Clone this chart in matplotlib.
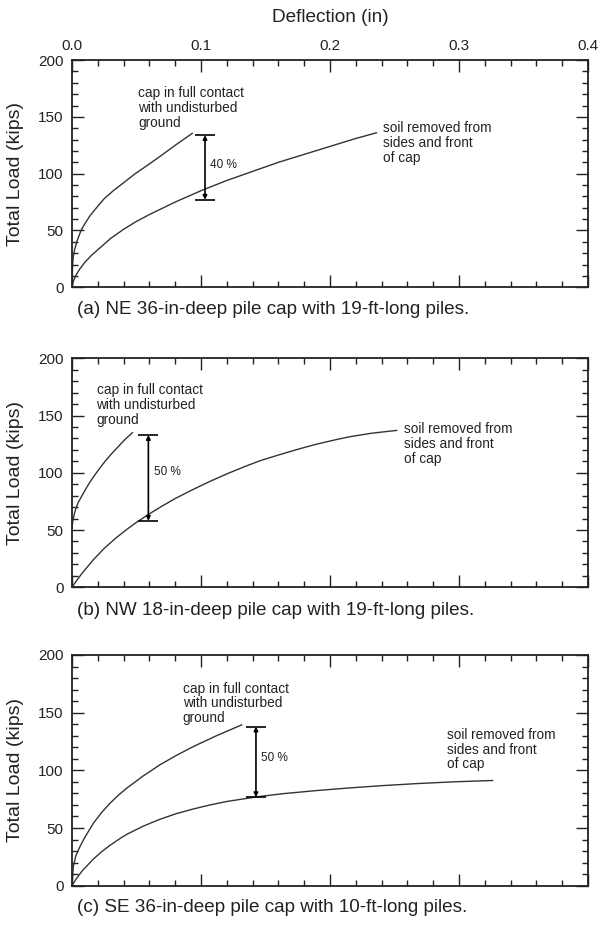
import matplotlib
matplotlib.use("Agg")
import matplotlib.pyplot as plt
from matplotlib.ticker import MultipleLocator

plt.rcParams['font.family'] = ['Liberation Sans', 'DejaVu Sans']

# ---- data (deflection in inches, load in kips) ----
# (a) NE 36-in-deep cap, 19-ft piles
a_full_x = [0, 0.0005, 0.001, 0.002, 0.004, 0.007, 0.010, 0.014, 0.019, 0.025, 0.032, 0.040,
            0.049, 0.058, 0.068, 0.080, 0.0932]
a_full_y = [0, 20, 27, 33, 41, 50, 56, 63, 70, 78, 85, 92, 100, 107, 115, 125, 135.5]
a_soil_x = [0, 0.001, 0.003, 0.006, 0.010, 0.015, 0.020, 0.030, 0.040, 0.050, 0.060, 0.080, 0.100,
            0.120, 0.140, 0.160, 0.180, 0.200, 0.220, 0.236]
a_soil_y = [0, 5, 10.5, 16, 22, 28, 33, 43, 51, 58, 64, 75, 85, 94, 102, 110, 117, 124, 131, 136]
a_gap = (0.1031, 77, 134)   # x, bottom, top
a_pct = "40 %"

# (b) NW 18-in-deep cap, 19-ft piles
b_full_x = [0, 0.0005, 0.001, 0.002, 0.0034, 0.005, 0.007, 0.009, 0.011, 0.014, 0.017, 0.0215,
            0.026, 0.031, 0.036, 0.041, 0.0468]
b_full_y = [52, 57, 60, 65, 70, 74.5, 78.5, 82.5, 86.5, 92, 97, 104, 110.5, 117, 123, 129, 135]
b_soil_x = [0, 0.003, 0.008, 0.0165, 0.025, 0.034, 0.0424, 0.051, 0.0605, 0.070, 0.080, 0.094,
            0.107, 0.120, 0.133, 0.1457, 0.160, 0.175, 0.1897, 0.205, 0.2155, 0.232, 0.2517]
b_soil_y = [0, 5, 12.5, 24, 34, 43, 50.5, 57.5, 64.5, 71, 77.5, 85.5, 92.5, 99, 105, 110.5,
            115.5, 120.5, 125, 129, 131.5, 134.5, 137]
b_gap = (0.0592, 58, 133)
b_pct = "50 %"

# (c) SE 36-in-deep cap, 10-ft piles
c_full_x = [0, 0.001, 0.003, 0.0062, 0.010, 0.0165, 0.023, 0.0295, 0.036, 0.0424, 0.055, 0.068,
            0.081, 0.094, 0.112, 0.1315]
c_full_y = [0, 16.5, 26, 34, 42, 54, 63.5, 71.5, 78.5, 84.5, 95, 104.7, 113, 120.6, 130, 139.4]
c_soil_x = [0, 0.003, 0.008, 0.0165, 0.023, 0.0295, 0.036, 0.0424, 0.055, 0.068, 0.081, 0.094,
            0.107, 0.120, 0.143, 0.1638, 0.190, 0.2155, 0.240, 0.2672, 0.295, 0.326]
c_soil_y = [0, 5.5, 13, 23, 29.5, 35, 40, 44.5, 51.5, 57.5, 62.5, 66.5, 70, 73, 77, 79.8, 82.5,
            84.8, 86.7, 88.5, 90, 91.2]
c_gap = (0.1426, 76.7, 138)
c_pct = "50 %"

captions = ["(a) NE 36-in-deep pile cap with 19-ft-long piles.",
            "(b) NW 18-in-deep pile cap with 19-ft-long piles.",
            "(c) SE 36-in-deep pile cap with 10-ft-long piles."]
full_txt = "cap in full contact\nwith undisturbed\nground"
soil_txt = "soil removed from\nsides and front\nof cap"

panels = [
    dict(fx=a_full_x, fy=a_full_y, sx=a_soil_x, sy=a_soil_y, gap=a_gap, pct=a_pct,
         full_pos=(0.0514, 177), soil_pos=(0.2413, 146), pct_pos=(0.107, 107.5),
         rect=[0.1204, 0.6895, 0.8629, 0.2455]),
    dict(fx=b_full_x, fy=b_full_y, sx=b_soil_x, sy=b_soil_y, gap=b_gap, pct=b_pct,
         full_pos=(0.019, 178), soil_pos=(0.2574, 144.5), pct_pos=(0.0638, 100.5),
         rect=[0.1204, 0.3651, 0.8629, 0.2476]),
    dict(fx=c_full_x, fy=c_full_y, sx=c_soil_x, sy=c_soil_y, gap=c_gap, pct=c_pct,
         full_pos=(0.0858, 177), soil_pos=(0.2905, 137), pct_pos=(0.1466, 111),
         rect=[0.1204, 0.0425, 0.8629, 0.2494]),
]
cap_y = [0.6649, 0.3405, 0.0184]

fig = plt.figure(figsize=(5.98, 9.25), dpi=100)
lc = "#333333"
tc = "#222222"

for i, p in enumerate(panels):
    ax = fig.add_axes(p["rect"])
    ax.plot(p["fx"], p["fy"], color=lc, lw=1.0)
    ax.plot(p["sx"], p["sy"], color=lc, lw=1.0)
    # bracket showing the load gap between the two curves
    gx, gb, gt = p["gap"]
    ax.hlines([gb, gt], gx - 0.0078, gx + 0.0078, color="black", lw=1.2)
    ax.annotate("", xy=(gx, gt), xytext=(gx, gb),
                arrowprops=dict(arrowstyle="<|-|>", color="black", lw=1.2,
                                mutation_scale=6, shrinkA=0, shrinkB=0))
    ax.text(*p["pct_pos"], p["pct"], fontsize=8.5, va="center", ha="left", color=tc)
    ax.text(*p["full_pos"], full_txt, fontsize=9.8, va="top", ha="left",
            linespacing=1.08, color=tc)
    ax.text(*p["soil_pos"], soil_txt, fontsize=9.8, va="top", ha="left",
            linespacing=1.08, color=tc)

    ax.set_xlim(0, 0.4)
    ax.set_ylim(0, 200)
    ax.xaxis.set_major_locator(MultipleLocator(0.1))
    ax.xaxis.set_minor_locator(MultipleLocator(0.02))
    ax.yaxis.set_major_locator(MultipleLocator(50))
    ax.yaxis.set_minor_locator(MultipleLocator(10))
    ax.tick_params(which="both", direction="in", top=True, right=True,
                   width=1.0, colors=tc, labelsize=11)
    ax.tick_params(which="major", length=8.5)
    ax.tick_params(which="minor", length=4.3)
    ax.tick_params(axis="y", pad=6)
    ax.tick_params(axis="x", labelbottom=False, labeltop=(i == 0), pad=5)
    if i == 0:
        ax.set_xticklabels([f"{v:.1f}" for v in ax.get_xticks()])
    for s in ax.spines.values():
        s.set_linewidth(1.3)
        s.set_color(tc)
    ax.set_ylabel("Total Load (kips)", fontsize=14, color=tc)
    ax.yaxis.set_label_coords(-0.093, 0.5)
    fig.text(0.1288, cap_y[i], captions[i], fontsize=13.6, va="center", ha="left", color=tc)

fig.text(0.5518, 0.981, "Deflection (in)", fontsize=13.7, ha="center", va="center", color=tc)

fig.savefig("out.png", dpi=100)
